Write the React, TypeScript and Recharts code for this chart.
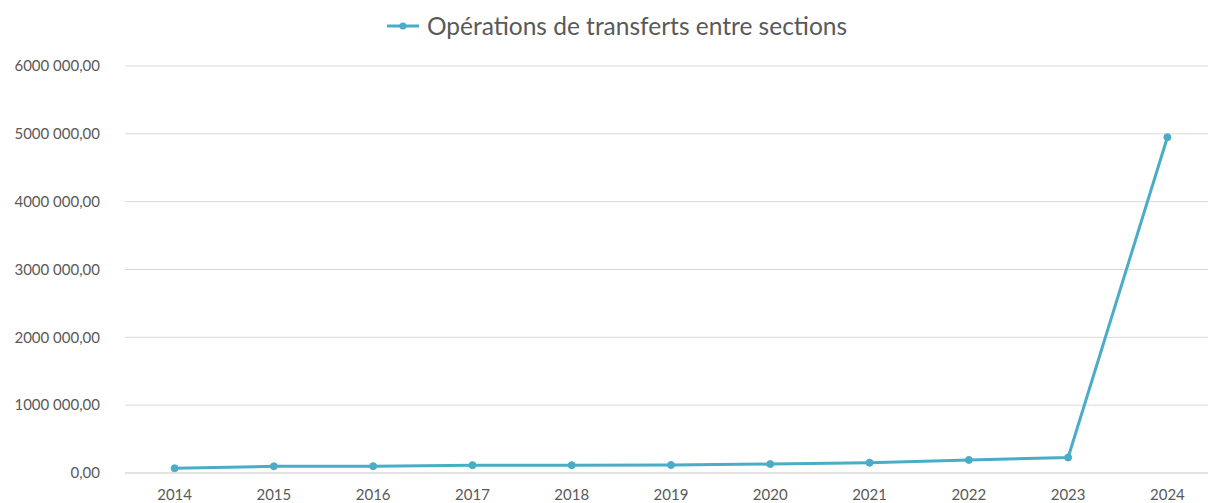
import { CartesianGrid, Line, LineChart, XAxis, YAxis } from "recharts";

const years = ["2014", "2015", "2016", "2017", "2018", "2019", "2020", "2021", "2022", "2023", "2024"];
const transferts = [70000, 99000, 101000, 116000, 116000, 118000, 132000, 152000, 193000, 228000, 4950000];
const yTicks = [0, 1000000, 2000000, 3000000, 4000000, 5000000, 6000000];

const seriesName = "Opérations de transferts entre sections";
const color = "#4BACC6";
const textColor = "#595959";
const font = "Lato, 'Open Sans', sans-serif";

const data = years.map((year, i) => ({ year, value: transferts[i] }));

// 6000000 -> "6000 000,00"
const formatTick = (v: number) => {
  if (v === 0) return "0,00";
  const s = String(v);
  const head = s.slice(0, s.length - 3);
  const tail = s.slice(s.length - 3);
  return `${head} ${tail},00`;
};

const App = () => {
  return (
    <div
      style={{
        position: "absolute",
        top: 0,
        left: 0,
        width: 1208,
        height: 503,
        overflow: "hidden",
        background: "#fff",
        fontFamily: font,
      }}
    >
      <div
        style={{
          position: "absolute",
          top: 11,
          left: 12,
          width: 1208,
          display: "flex",
          justifyContent: "center",
          alignItems: "center",
          color: textColor,
          fontSize: 24.5,
        }}
      >
        <svg width={36} height={12} style={{ marginRight: 6 }}>
          <line x1={2} y1={6} x2={34} y2={6} stroke={color} strokeWidth={3} />
          <circle cx={18} cy={6} r={3.5} fill={color} />
        </svg>
        <span>{seriesName}</span>
      </div>
      <LineChart
        width={1217}
        height={503}
        data={data}
        margin={{ top: 66, right: 0, left: 0, bottom: 0 }}
      >
        <CartesianGrid vertical={false} stroke="#d9d9d9" />
        <XAxis
          dataKey="year"
          height={30}
          padding={{ left: 49.6, right: 49.6 }}
          tickLine={false}
          tickSize={0}
          tickMargin={16}
          axisLine={{ stroke: "#d9d9d9" }}
          tick={{ fill: textColor, fontSize: 15, fontFamily: font }}
          interval={0}
        />
        <YAxis
          width={125}
          domain={[0, 6000000]}
          ticks={yTicks}
          tickFormatter={formatTick}
          axisLine={false}
          tickLine={false}
          tickSize={0}
          tickMargin={25}
          tick={{ fill: textColor, fontSize: 15, fontFamily: font }}
        />
        <Line
          type="linear"
          dataKey="value"
          name={seriesName}
          stroke={color}
          strokeWidth={3}
          dot={{ r: 3.5, fill: color, stroke: color, strokeWidth: 1 }}
          isAnimationActive={false}
        />
      </LineChart>
    </div>
  );
};

export default App;
